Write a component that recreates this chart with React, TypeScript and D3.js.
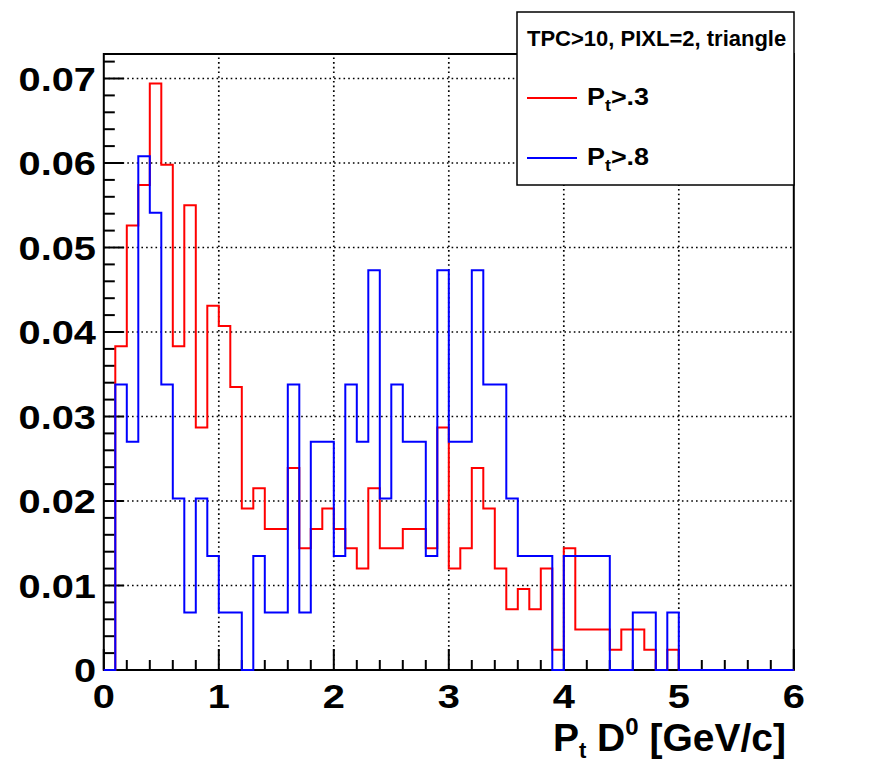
import React from "react";
import * as d3 from "d3";

// ---- data (60 bins of 0.1 GeV/c from 0 to 6) ----
const binWidth = 0.1;
const xMin = 0;
const xMax = 6;
const yMax = 0.0729;

const redValues = [
  0, 0.0383, 0.0526, 0.0574, 0.0694, 0.0598, 0.0383, 0.055, 0.0287, 0.0431,
  0.0407, 0.0335, 0.0191, 0.0215, 0.0167, 0.0167, 0.0239, 0.0144, 0.0167, 0.0191,
  0.0167, 0.0144, 0.012, 0.0215, 0.0144, 0.0144, 0.0167, 0.0167, 0.0144, 0.0287,
  0.012, 0.0144, 0.0239, 0.0191, 0.012, 0.0072, 0.0096, 0.0072, 0.012, 0.0024,
  0.0144, 0.0048, 0.0048, 0.0048, 0.0024, 0.0048, 0.0048, 0.0024, 0, 0.0024,
  0, 0, 0, 0, 0, 0, 0, 0, 0, 0,
];

const blueValues = [
  0, 0.0338, 0.027, 0.0608, 0.0541, 0.0338, 0.0203, 0.0068, 0.0203, 0.0135,
  0.0068, 0.0068, 0, 0.0135, 0.0068, 0.0068, 0.0338, 0.0068, 0.027, 0.027,
  0.0135, 0.0338, 0.027, 0.0473, 0.0203, 0.0338, 0.027, 0.027, 0.0135, 0.0473,
  0.027, 0.027, 0.0473, 0.0338, 0.0338, 0.0203, 0.0135, 0.0135, 0.0135, 0,
  0.0135, 0.0135, 0.0135, 0.0135, 0, 0, 0.0068, 0.0068, 0, 0.0068,
  0, 0, 0, 0, 0, 0, 0, 0, 0, 0,
];

const xTicks = [0, 1, 2, 3, 4, 5, 6];
const xTickLabels = ["0", "1", "2", "3", "4", "5", "6"];
const yTicks = [0, 0.01, 0.02, 0.03, 0.04, 0.05, 0.06, 0.07];
const yTickLabels = ["0", "0.01", "0.02", "0.03", "0.04", "0.05", "0.06", "0.07"];
const legendHeader = "TPC>10, PIXL=2, triangle";
const seriesNames = [".3", ".8"];

const W = 884;
const H = 763;
const FONT = "'Liberation Sans', Arial, Helvetica, sans-serif";

export default function App() {
  const x = d3.scaleLinear().domain([xMin, xMax]).range([103.8, 793.8]);
  const y = d3.scaleLinear().domain([0, yMax]).range([670, 54]);

  const stepPath = (vals: number[]) => {
    const pts: [number, number][] = [[xMin, 0]];
    vals.forEach((v, i) => pts.push([xMin + i * binWidth, v]));
    pts.push([xMax, vals[vals.length - 1]]);
    pts.push([xMax, 0]);
    return d3
      .line<[number, number]>()
      .x((d) => x(d[0]))
      .y((d) => y(d[1]))
      .curve(d3.curveStepAfter)(pts) as string;
  };

  const yMinor = d3.range(0, yMax, 0.002);
  const xMinor = d3.range(0, xMax + 1e-9, 0.2);
  const grid = { stroke: "#000", strokeWidth: 1.7, strokeDasharray: "1.6 3.1" };
  const [x0, x1] = x.range();
  const [y0, y1] = y.range();
  const sx = 1.17;

  return (
    <svg
      width={W}
      height={H}
      style={{ position: "absolute", left: 0, top: 0, background: "#fff" }}
      fontFamily={FONT}
      fontWeight="bold"
    >
      <rect x={0} y={0} width={W} height={H} fill="#fff" />
      {/* grid */}
      {xTicks.slice(1, -1).map((t) => (
        <line key={"gx" + t} x1={x(t)} x2={x(t)} y1={y0} y2={y1} {...grid} />
      ))}
      {yTicks.slice(1).map((t) => (
        <line key={"gy" + t} x1={x0} x2={x1} y1={y(t)} y2={y(t)} {...grid} />
      ))}
      {/* frame */}
      <rect x={x0} y={y1} width={x1 - x0} height={y0 - y1} fill="none" stroke="#000" strokeWidth={2} />
      {/* y ticks */}
      {yMinor.map((t, i) => (
        <line key={"yt" + i} x1={x0} x2={x0 + (i % 5 === 0 ? 20 : 11)} y1={y(t)} y2={y(t)} stroke="#000" strokeWidth={2} />
      ))}
      {/* x ticks */}
      {xMinor.map((t, i) => (
        <line key={"xt" + i} x1={x(t)} x2={x(t)} y1={y0} y2={y0 - (i % 5 === 0 ? 21 : 10)} stroke="#000" strokeWidth={2} />
      ))}
      {/* y labels */}
      {yTicks.map((t, i) => (
        <text
          key={"yl" + t}
          transform={`translate(96,${y(t) + 12}) scale(${sx},1)`}
          textAnchor="end"
          fontSize={34}
        >
          {yTickLabels[i]}
        </text>
      ))}
      {/* x labels */}
      {xTicks.map((t, i) => (
        <text
          key={"xl" + t}
          transform={`translate(${x(t)},708) scale(${sx},1)`}
          textAnchor="middle"
          fontSize={34}
        >
          {xTickLabels[i]}
        </text>
      ))}
      {/* x title */}
      <text x={786} y={751} textAnchor="end" fontSize={39}>
        <tspan>P</tspan>
        <tspan fontSize={22} dy={7}>t</tspan>
        <tspan dy={-7}> D</tspan>
        <tspan fontSize={24} dy={-16}>0</tspan>
        <tspan dy={16}> [GeV/c]</tspan>
      </text>
      {/* histograms */}
      <path d={stepPath(redValues)} fill="none" stroke="#ff0000" strokeWidth={2} />
      <path d={stepPath(blueValues)} fill="none" stroke="#0000ff" strokeWidth={2} />
      {/* legend */}
      <rect x={517} y={12} width={277} height={173} fill="#fff" stroke="#000" strokeWidth={1.5} />
      <text x={527} y={46} fontSize={22}>{legendHeader}</text>
      {[
        { color: "#ff0000", yy: 98, name: seriesNames[0] },
        { color: "#0000ff", yy: 158, name: seriesNames[1] },
      ].map((e) => (
        <g key={e.name}>
          <line x1={527} x2={577} y1={e.yy} y2={e.yy} stroke={e.color} strokeWidth={2} />
          <text transform={`translate(587,${e.yy + 7}) scale(1.12,1)`} fontSize={24}>
            <tspan>P</tspan>
            <tspan fontSize={16} dy={6}>t</tspan>
            <tspan dy={-6}>{">" + e.name}</tspan>
          </text>
        </g>
      ))}
    </svg>
  );
}
